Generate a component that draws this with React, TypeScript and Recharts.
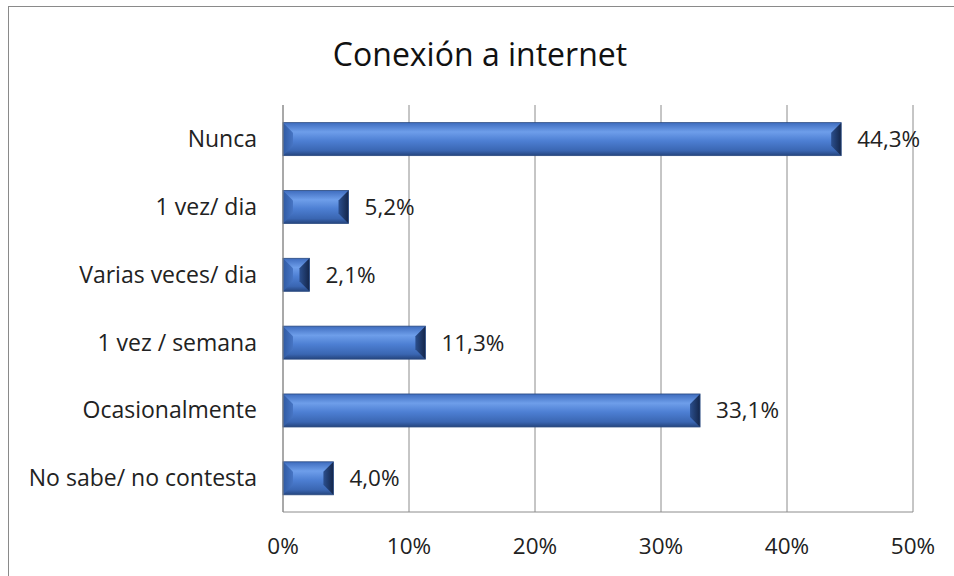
import { BarChart, Bar, XAxis, YAxis, CartesianGrid, LabelList } from "recharts";

const categories = [
  "Nunca",
  "1 vez/ dia",
  "Varias veces/ dia",
  "1 vez / semana",
  "Ocasionalmente",
  "No sabe/ no contesta",
];
const values = [44.3, 5.2, 2.1, 11.3, 33.1, 4.0];
const xTicks = [0, 10, 20, 30, 40, 50];

const data = categories.map((name, i) => ({ name, value: values[i] }));

const FONT = "'Open Sans', 'Noto Sans', sans-serif";
const fmt = (v: number) => v.toFixed(1).replace(".", ",") + "%";

// bar with bevelled ends, like the office 3D bevel style
function BevelBar(props: any) {
  const { x, y, width, height } = props;
  if (!width || width <= 0) return null;
  const b = Math.min(10, width / 2, height / 3);
  return (
    <g>
      <rect x={x} y={y} width={width} height={height} fill="url(#barFace)" />
      <polygon
        points={`${x},${y} ${x + b},${y + b} ${x + b},${y + height - b} ${x},${y + height}`}
        fill="url(#barLeft)"
      />
      <polygon
        points={`${x + width},${y} ${x + width - b},${y + b} ${x + width - b},${y + height - b} ${x + width},${y + height}`}
        fill="url(#barRight)"
      />
      <rect x={x} y={y} width={width} height={height} fill="none" stroke="#2a4a80" strokeWidth={0.8} />
    </g>
  );
}

export default function App() {
  return (
    <div style={{ position: "absolute", left: 0, top: 0, width: 954, height: 576, background: "#fff", overflow: "hidden" }}>
      <div
        style={{
          position: "absolute",
          left: 8,
          top: 6,
          width: 980,
          height: 600,
          border: "1.5px solid #8a8a8a",
        }}
      />
      <div
        style={{
          position: "absolute",
          top: 32,
          left: 0,
          width: 960,
          textAlign: "center",
          fontFamily: FONT,
          fontSize: 32,
          color: "#111",
        }}
      >
        Conexión a internet
      </div>
      <div style={{ position: "absolute", left: 0, top: 0 }}>
        <BarChart
          width={954}
          height={576}
          data={data}
          layout="vertical"
          margin={{ top: 105, right: 41, bottom: 0, left: 0 }}
          barCategoryGap="26%"
        >
          <defs>
            <linearGradient id="barFace" x1="0" y1="0" x2="0" y2="1">
              <stop offset="0%" stopColor="#3e6cbe" />
              <stop offset="28%" stopColor="#6e9eea" />
              <stop offset="55%" stopColor="#4d7fd3" />
              <stop offset="85%" stopColor="#3a66b2" />
              <stop offset="100%" stopColor="#25457e" />
            </linearGradient>
            <linearGradient id="barLeft" x1="0" y1="0" x2="1" y2="0">
              <stop offset="0%" stopColor="#2f5aa3" />
              <stop offset="100%" stopColor="#4775c4" />
            </linearGradient>
            <linearGradient id="barRight" x1="0" y1="0" x2="1" y2="0">
              <stop offset="0%" stopColor="#2b4f8e" />
              <stop offset="100%" stopColor="#14264a" />
            </linearGradient>
          </defs>
          <CartesianGrid horizontal={false} stroke="#8c8c8c" strokeWidth={1} />
          <XAxis
            type="number"
            domain={[0, 50]}
            ticks={xTicks}
            tickFormatter={(v) => v + "%"}
            height={64}
            tickLine={false}
            axisLine={{ stroke: "#8c8c8c" }}
            tickMargin={20}
            tick={{ fontFamily: FONT, fontSize: 22.5, fill: "#222" }}
            interval={0}
          />
          <YAxis
            type="category"
            dataKey="name"
            width={283}
            tickLine={false}
            axisLine={{ stroke: "#8c8c8c" }}
            tickMargin={20}
            tick={{ fontFamily: FONT, fontSize: 23, fill: "#222" }}
            interval={0}
          />
          <Bar dataKey="value" shape={BevelBar} isAnimationActive={false}>
            <LabelList
              dataKey="value"
              position="right"
              offset={16}
              formatter={(v: any) => fmt(Number(v))}
              style={{ fontFamily: FONT, fontSize: 22.5, fill: "#222" }}
            />
          </Bar>
        </BarChart>
      </div>
    </div>
  );
}
